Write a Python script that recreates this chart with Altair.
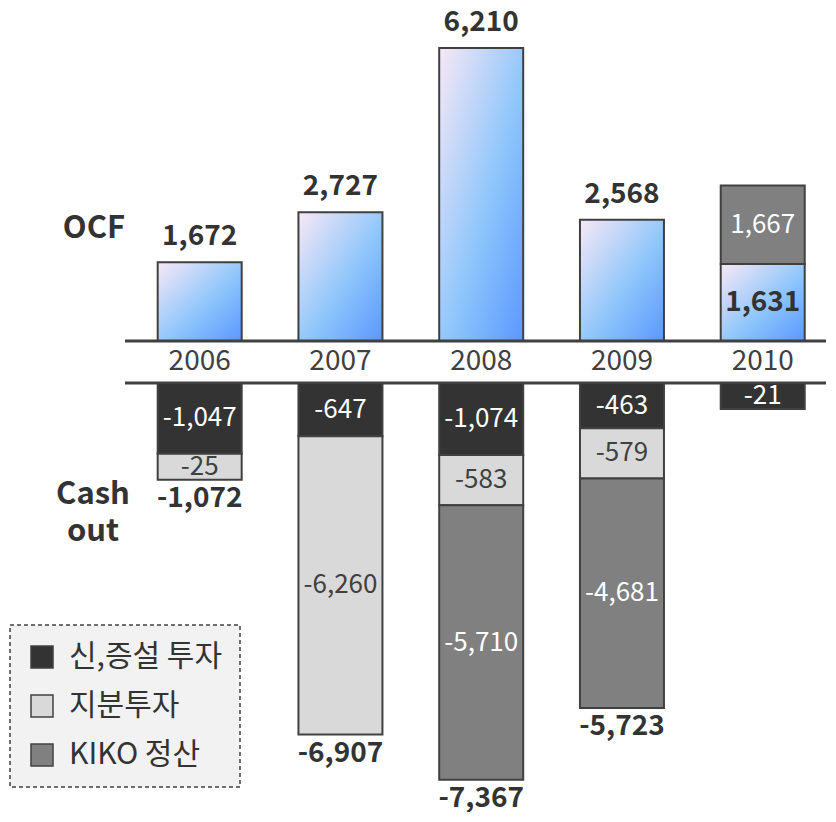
import altair as alt
import pandas as pd

# ---------------- data ----------------
years = [2006, 2007, 2008, 2009, 2010]
ocf = [1672, 2727, 6210, 2568, 1631]
capex = [-1047, -647, -1074, -463, -21]      # 신,증설 투자
equity = [-25, -6260, -583, -579, 0]         # 지분투자
kiko = [0, 0, -5710, -4681, 1667]            # KIKO 정산
cash_out_total = [-1072, -6907, -7367, -5723, None]

categories = ["신,증설 투자", "지분투자", "KIKO 정산"]
colors = ["#333333", "#d9d9d9", "#808080"]

# ---------------- layout constants ----------------
FONT = "Noto Sans CJK KR"
W, H = 818, 804
TOP_UPX = 21.2                # OCF side: value units per pixel
BASE_PX = 333                 # OCF baseline, plot pixels from top
GAP = 42 * TOP_UPX            # band holding the year labels
BOT_UPX = 22.9                # cash-out side: value units per pixel
BOT0_PX = BASE_PX + 42        # top of cash-out stacks
BOT_PAD = 25 * BOT_UPX        # schematic padding per cash-out segment (as in original)

top_domain = [-(H - BASE_PX) * TOP_UPX, BASE_PX * TOP_UPX]
bot_domain = [-(H - BOT0_PX) * BOT_UPX, BOT0_PX * BOT_UPX]
x_domain = [2006 - 189 / 142.5, 2006 + (W - 189) / 142.5]

yscale_top = alt.Scale(domain=top_domain, nice=False, zero=False)
yscale_bot = alt.Scale(domain=bot_domain, nice=False, zero=False)
xscale = alt.Scale(domain=x_domain, nice=False, zero=False)

# ---------------- tables ----------------
ocf_df = pd.DataFrame({"year": years, "ocf": ocf, "base": [0] * len(years),
                       "label": [f"{v:,}" for v in ocf]})
ocf_df["inside"] = [False, False, False, False, True]
ocf_df["mid"] = ocf_df["ocf"] / 2

neg_rows, pos_rows, tot_rows = [], [], []
for i, yr in enumerate(years):
    cur = 0
    for cat, vals in zip(categories, [capex, equity, kiko]):
        v = vals[i]
        if v < 0:
            top = cur
            bot = cur - (abs(v) + BOT_PAD)
            neg_rows.append(dict(year=yr, cat=cat, value=v, y=top, y2=bot,
                                 mid=(top + bot) / 2, label=f"{v:,}"))
            cur = bot
        elif v > 0:
            base = ocf[i]
            pos_rows.append(dict(year=yr, cat=cat, value=v, y=base, y2=base + v,
                                 mid=base + v / 2, label=f"{v:,}"))
    if cash_out_total[i] is not None:
        tot_rows.append(dict(year=yr, y=cur, label=f"{cash_out_total[i]:,}"))
neg_df = pd.DataFrame(neg_rows)
pos_df = pd.DataFrame(pos_rows)
tot_df = pd.DataFrame(tot_rows)

line_df = pd.DataFrame({"y": [0, -GAP]})
year_df = pd.DataFrame({"year": years, "y": [-GAP / 2] * len(years),
                        "label": [str(y) for y in years]})

# ---------------- layers ----------------
X = alt.X("year:Q", scale=xscale, axis=None)
color_enc = alt.Color("cat:N", scale=alt.Scale(domain=categories, range=colors),
                      legend=alt.Legend(title=None))
seg_text_color = alt.condition("datum.cat == '지분투자'", alt.value("#404040"),
                               alt.value("#ffffff"))


def YT(field):
    return alt.Y(field, scale=yscale_top, axis=None)


def YB(field):
    return alt.Y(field, scale=yscale_bot, axis=None)


gradient = alt.Gradient(
    gradient="linear",
    stops=[alt.GradientStop(color="#f8e8f6", offset=0),
           alt.GradientStop(color="#8fc6fb", offset=0.55),
           alt.GradientStop(color="#5a98ff", offset=1)],
    x1=0, y1=0, x2=1, y2=1,
)

# --- OCF (upper) side ---
ocf_bars = alt.Chart(ocf_df).mark_bar(size=84, fill=gradient, stroke="#404040",
                                      strokeWidth=2).encode(
    x=X, y=YT("ocf:Q"), y2="base:Q")

pos_bars = alt.Chart(pos_df).mark_bar(size=84, stroke="#404040", strokeWidth=2,
                                      opacity=1).encode(
    x=X, y=YT("y:Q"), y2="y2:Q", color=color_enc)

pos_text = alt.Chart(pos_df).mark_text(font=FONT, fontSize=26,
                                       baseline="middle").encode(
    x=X, y=YT("mid:Q"), text="label:N", color=seg_text_color)

lines = alt.Chart(line_df).mark_rule(color="#404040", strokeWidth=3).encode(
    y=YT("y:Q"), x=alt.value(117), x2=alt.value(W))

year_text = alt.Chart(year_df).mark_text(font=FONT, fontSize=28, color="#404040",
                                         baseline="middle").encode(
    x=X, y=YT("y:Q"), text="label:N")

ocf_top_text = alt.Chart(ocf_df[~ocf_df["inside"]]).mark_text(
    font=FONT, fontSize=28, fontWeight="bold", color="#333333",
    baseline="alphabetic", dy=-17).encode(
    x=X, y=YT("ocf:Q"), text="label:N")

ocf_in_text = alt.Chart(ocf_df[ocf_df["inside"]]).mark_text(
    font=FONT, fontSize=28, fontWeight="bold", color="#333333",
    baseline="middle").encode(
    x=X, y=YT("mid:Q"), text="label:N")

upper = alt.layer(ocf_bars, pos_bars, lines, year_text, ocf_top_text,
                  ocf_in_text, pos_text)

# --- cash-out (lower) side ---
neg_bars = alt.Chart(neg_df).mark_bar(size=84, stroke="#404040", strokeWidth=2,
                                      opacity=1).encode(
    x=X, y=YB("y:Q"), y2="y2:Q", color=color_enc)

neg_text = alt.Chart(neg_df).mark_text(font=FONT, fontSize=26,
                                       baseline="middle").encode(
    x=X, y=YB("mid:Q"), text="label:N", color=seg_text_color)

tot_text = alt.Chart(tot_df).mark_text(font=FONT, fontSize=28, fontWeight="bold",
                                       color="#333333", baseline="middle",
                                       dy=19).encode(
    x=X, y=YB("y:Q"), text="label:N")

lower = alt.layer(neg_bars, neg_text, tot_text)

# --- row labels ---
ocf_lbl = alt.Chart(pd.DataFrame({"t": ["OCF"]})).mark_text(
    font=FONT, fontSize=31, fontWeight="bold", color="#333333",
    baseline="middle").encode(x=alt.value(86), y=alt.value(221), text="t:N")

cash_lbl = alt.Chart(pd.DataFrame({"t": ["Cash\nout"]})).mark_text(
    font=FONT, fontSize=31, fontWeight="bold", color="#333333",
    baseline="middle", lineBreak="\n", lineHeight=37).encode(
    x=alt.value(85), y=alt.value(487), text="t:N")

chart = alt.layer(upper, lower, ocf_lbl, cash_lbl).resolve_scale(
    y="independent"
).properties(
    width=W, height=H, padding=0, autosize=alt.AutoSizeParams(type="none"),
    background="white",
).configure_view(stroke=None).configure_legend(
    orient="none", legendX=2, legendY=617,
    fillColor="#f2f2f2", strokeColor="#404040", strokeDash=[4, 3], strokeWidth=1.5,
    padding=17, symbolType="square", symbolSize=484,
    symbolStrokeColor="#404040", symbolStrokeWidth=1.5, symbolOpacity=1,
    labelFontSize=30, labelColor="#333333", labelFont=FONT,
    rowPadding=19, labelOffset=12,
)

chart.save("out.html", embed_options={"renderer": "svg", "actions": False})
